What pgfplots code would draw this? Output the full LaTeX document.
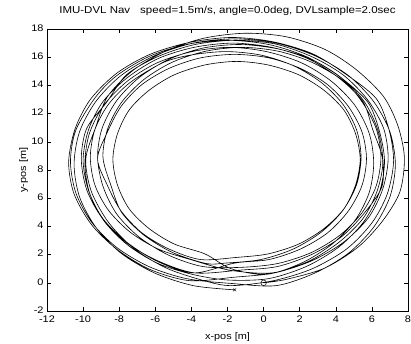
\documentclass[border=0pt]{standalone}
\usepackage{fontspec}
\setmainfont{Liberation Sans}[FakeStretch=1.15]
\usepackage{pgfplots}
\pgfplotsset{compat=1.18}
\usepackage{pgfplotstable}

% Navigated track (x, y) in metres, one block per lap
\pgfplotstableread{
x y
0.00 0.00
1.28 0.25
3.40 1.05
5.25 2.55
6.60 4.40
7.55 6.45
7.80 8.85
7.45 11.10
6.65 13.20
5.15 15.10
3.40 16.55
1.25 17.45
-1.00 17.70
-3.30 17.35
-5.40 16.45
-7.25 15.05
-8.65 13.20
-9.30 11.05
-9.85 8.80
-9.55 6.50
-8.60 4.30
-7.20 2.45
-5.40 1.05
-3.30 0.15
-1.80 -0.20
0.55 0.15
2.70 1.00
4.60 2.40
6.00 4.25
6.85 6.30
7.20 8.60
6.95 10.85
6.25 13.05
4.55 14.80
2.70 16.25
0.50 17.10
-1.80 17.40
-4.10 17.05
-6.30 16.20
-8.15 14.85
-9.60 13.00
-10.45 10.90
-10.80 8.55
-10.50 6.30
-9.55 4.15
-8.15 2.40
-6.30 0.95
-4.10 0.15
-1.60 0.40
0.60 0.70
2.65 1.55
4.40 2.85
5.80 4.60
6.60 6.65
6.90 8.80
6.65 10.95
5.75 13.00
4.40 14.75
2.65 16.05
0.60 16.95
-1.60 17.20
-3.80 16.90
-5.85 16.05
-7.60 14.75
-8.70 12.80
-9.80 10.95
-10.10 8.80
-9.80 6.60
-8.95 4.60
-7.60 2.85
-5.85 1.55
-3.80 0.70
-1.30 0.90
0.75 1.15
2.65 2.00
4.30 3.25
5.55 4.90
6.55 6.80
6.60 8.90
6.30 10.95
5.55 12.90
4.30 14.55
2.65 15.85
0.75 16.60
-1.30 16.90
-3.35 16.65
-5.25 15.85
-6.90 14.55
-8.15 12.90
-8.95 10.95
-9.20 8.90
-8.90 6.85
-8.15 4.90
-6.90 3.25
-5.25 1.95
-3.35 1.15
-1.20 1.10
0.79 1.37
2.65 2.15
4.24 3.39
5.47 5.00
6.24 6.88
6.50 8.90
6.24 10.92
5.47 12.80
4.45 14.30
2.65 15.65
0.79 16.43
-1.20 16.70
-3.19 16.43
-5.05 15.65
-6.64 14.41
-7.87 12.80
-8.64 10.92
-8.90 8.90
-8.45 6.88
-7.87 5.00
-6.64 3.39
-5.05 2.15
-3.19 1.37
-2.10 1.40
-0.15 1.65
1.65 2.40
3.20 3.60
4.40 5.15
5.15 6.95
5.40 8.90
5.15 10.85
4.40 12.65
3.20 14.20
1.65 15.40
-0.15 16.15
-2.10 16.40
-4.05 16.15
-5.60 15.60
-7.40 14.20
-8.60 12.65
-9.35 10.85
-9.60 8.90
-9.35 6.95
-8.60 5.15
-7.40 3.60
-5.85 2.40
-4.05 1.65
-1.90 0.90
0.45 0.70
2.45 1.50
4.15 2.85
5.50 4.55
6.30 6.55
6.60 8.70
6.05 10.85
5.50 12.85
4.15 14.55
2.45 15.90
0.45 16.70
-1.70 17.00
-3.85 16.70
-5.85 15.90
-7.55 14.55
-8.90 12.85
-9.70 10.85
-10.00 8.70
-9.70 6.55
-8.90 4.55
-7.55 2.85
-5.85 1.50
-3.85 0.70
-1.60 1.40
0.30 1.65
2.05 2.40
3.55 3.55
4.70 5.10
5.45 6.90
5.70 8.80
5.45 10.70
4.70 12.50
3.55 14.05
2.05 15.20
0.30 15.95
-1.60 16.20
-3.50 15.95
-5.25 15.20
-6.75 14.05
-7.90 12.50
-8.65 10.70
-9.20 8.80
-8.65 6.90
-7.90 5.10
-6.75 3.55
-5.25 2.40
-3.50 1.65
-1.50 1.80
0.25 2.05
1.95 2.75
3.35 3.85
4.45 5.25
5.10 6.95
5.35 8.75
5.10 10.55
4.45 12.25
3.35 13.65
1.95 14.75
0.25 15.45
-1.50 15.70
-3.25 15.45
-4.95 14.75
-6.35 13.65
-7.45 12.25
-8.10 10.55
-8.35 8.75
-8.10 6.95
-7.45 5.25
-6.35 3.85
-4.95 2.75
-3.25 2.05
-1.80 1.00
0.15 0.60
2.10 1.40
3.75 2.70
5.05 4.40
5.85 6.40
6.10 8.50
5.85 10.60
5.05 12.60
3.75 14.30
2.10 15.60
0.15 16.40
-1.90 16.70
-3.95 16.40
-5.90 15.60
-7.55 14.30
-8.85 12.60
-9.65 10.60
-9.90 8.50
-9.65 6.40
-8.85 4.40
-7.55 2.70
-5.90 1.40
-3.95 0.60
-2.00 0.20
0.25 0.29
2.35 1.15
4.15 2.52
5.53 4.30
6.40 6.37
6.70 8.60
6.40 10.83
5.75 12.85
4.15 14.68
2.35 16.05
0.25 16.91
-2.00 17.20
-4.25 16.91
-6.35 16.05
-8.15 14.68
-9.35 13.10
-10.40 10.83
-10.70 8.60
-10.40 6.37
-9.53 4.30
-8.15 2.52
-6.35 1.15
-4.25 0.29
-1.75 -0.05
0.70 -0.20
2.85 0.70
4.70 2.10
6.10 3.95
7.00 6.10
7.30 8.40
7.00 10.70
6.10 12.85
4.70 14.70
2.85 16.10
0.70 17.00
-1.60 17.30
-3.90 17.00
-6.05 16.10
-7.90 14.70
-9.30 12.85
-10.20 10.70
-10.50 8.40
-10.20 6.10
-9.30 3.95
-7.90 2.10
-6.05 0.70
-3.90 -0.20
-1.60 -0.50
}\track

\begin{document}
\begin{tikzpicture}
\useasboundingbox (0,0) rectangle (411pt,343pt);
\begin{axis}[
  at={(47pt,32pt)}, anchor=south west,
  scale only axis, width=361pt, height=282pt,
  xmin=-12, xmax=8, ymin=-2, ymax=18,
  xtick={-12,-10,...,8}, ytick={-2,0,...,18},
  tick align=inside, tick pos=both, major tick length=4pt,
  axis line style={line width=0.6pt},
  every tick/.style={line width=0.6pt},
  /pgf/number format/assume math mode=true,
  ticklabel style={font=\fontsize{9.5}{11}\selectfont},
  xticklabel style={yshift=-1.5pt},
  yticklabel style={yshift=1pt},
  label style={font=\fontsize{9.5}{11}\selectfont},
  title style={font=\fontsize{10}{12}\selectfont,
    at={(axis description cs:0.5,1.035)}, anchor=base},
  xlabel style={at={(axis description cs:0.5,-0.101)}, anchor=base},
  ylabel style={at={(axis description cs:-0.058,0.5)}, anchor=base},
  title={IMU-DVL Nav\quad speed=1.5m/s, angle=0.0deg, DVLsample=2.0sec},
  xlabel={x-pos [m]}, ylabel={y-pos [m]},
]
\addplot[black, line width=0.6pt, smooth, tension=0.5] table {\track};
\addplot[black, only marks, mark=o, mark size=2.8pt, mark options={line width=0.5pt}] coordinates {(0,0)};
\addplot[black, only marks, mark=x, mark size=2pt, mark options={line width=0.5pt}] coordinates {(-1.6,-0.5)};
\end{axis}
\end{tikzpicture}
\end{document}
